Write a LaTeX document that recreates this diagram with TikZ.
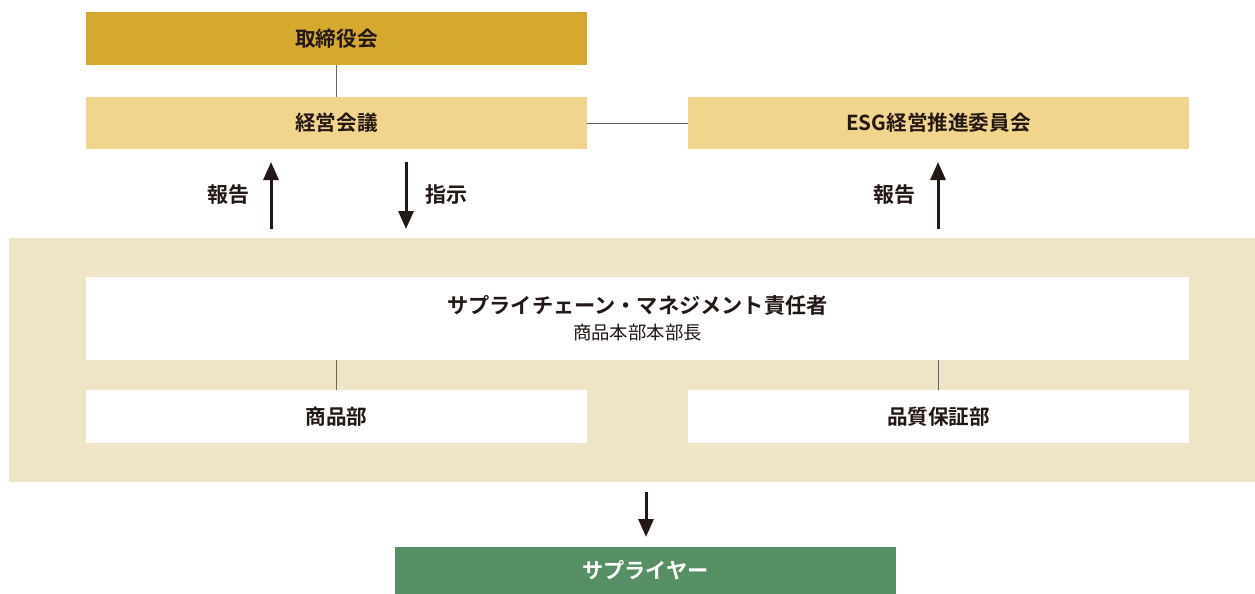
\documentclass[tikz,border=0pt]{standalone}
\usepackage{fontspec}
\newfontfamily\cjk{Noto Sans CJK JP}
\newfontfamily\cjkb{Noto Sans CJK JP Bold}
\usetikzlibrary{arrows.meta}
\definecolor{gold}{HTML}{D5A82E}
\definecolor{lightgold}{HTML}{F2D58C}
\definecolor{panel}{HTML}{F0E4C6}
\definecolor{green}{HTML}{568F63}
\definecolor{ink}{HTML}{231815}
\definecolor{linegray}{HTML}{666666}
\begin{document}
\begin{tikzpicture}[x=0.5pt,y=-0.5pt,
  box/.style={anchor=north west,inner sep=0pt,outer sep=0pt,font=\cjkb\fontsize{10.3pt}{12pt}\selectfont,text=ink,align=center},
  conn/.style={draw=linegray,line width=0.5pt},
  bigarrow/.style={draw=ink,line width=1.5pt,-{Triangle[length=9pt,width=7.5pt]}},
  lbl/.style={font=\cjkb\fontsize{10.5pt}{12pt}\selectfont,text=ink}]
\useasboundingbox (0,0) rectangle (1255,594);
\fill[white] (0,0) rectangle (1255,594);
\node[box,fill=panel,minimum width=623pt,minimum height=122pt] (panel) at (9,238) {};
\node[box,fill=gold,minimum width=250.5pt,minimum height=26.5pt] (board) at (86,12) {取締役会};
\node[box,fill=lightgold,minimum width=250.5pt,minimum height=26pt] (mgmt) at (86,97) {経営会議};
\node[box,fill=lightgold,minimum width=250.5pt,minimum height=26pt] (esg) at (688,97) {ESG経営推進委員会};
\node[box,fill=white,minimum width=551.5pt,minimum height=41.5pt] (scm) at (86,277) {{\fontsize{10.6pt}{12pt}\selectfont サプライチェーン・マネジメント責任者}\\[1pt]{\cjk\fontsize{9.2pt}{10pt}\selectfont 商品本部本部長}};
\node[box,fill=white,minimum width=250.5pt,minimum height=26.5pt] (prod) at (86,390) {商品部};
\node[box,fill=white,minimum width=250.5pt,minimum height=26.5pt] (qa) at (688,390) {品質保証部};
\node[box,fill=green,text=white,minimum width=250.5pt,minimum height=23.5pt,font=\cjkb\fontsize{10.6pt}{12pt}\selectfont] (sup) at (395,547) {サプライヤー};
\draw[conn] (board.south) -- (mgmt.north);
\draw[conn] (mgmt.east) -- (esg.west);
\draw[conn] (scm.south -| prod.north) -- (prod.north);
\draw[conn] (scm.south -| qa.north) -- (qa.north);
\coordinate (a1s) at (271,229); \coordinate (a1e) at (271,162);
\coordinate (a2s) at (406,162); \coordinate (a2e) at (406,229);
\coordinate (a3s) at (938,229); \coordinate (a3e) at (938,162);
\coordinate (a4s) at (646,492); \coordinate (a4e) at (646,537);
\draw[bigarrow] (a1s) -- (a1e);
\draw[bigarrow] (a2s) -- (a2e);
\draw[bigarrow] (a3s) -- (a3e);
\draw[bigarrow] (a4s) -- (a4e);
\node[lbl] (l1) at (228,195) {報告};
\node[lbl] (l2) at (446,195) {指示};
\node[lbl] (l3) at (894,195) {報告};
\end{tikzpicture}
\end{document}
